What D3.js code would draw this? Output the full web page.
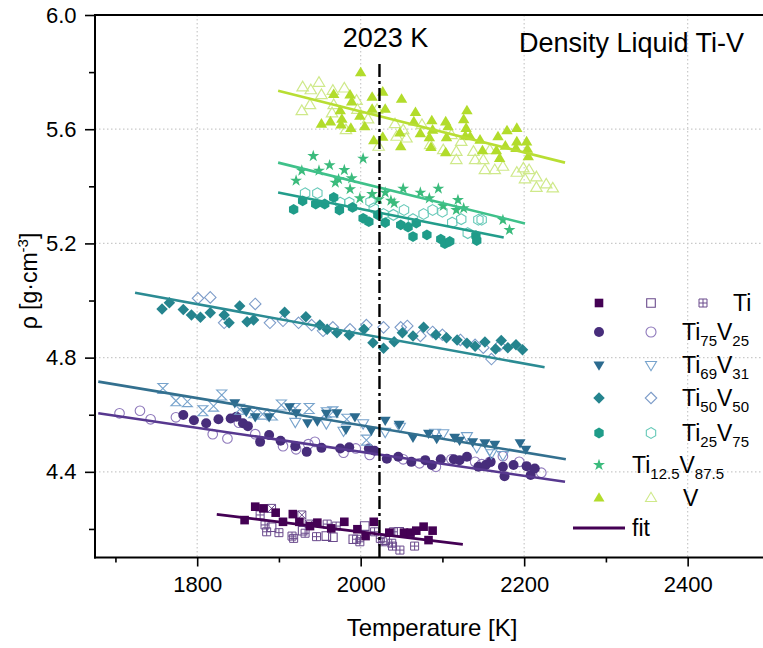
<!DOCTYPE html>
<html>
<head>
<meta charset="utf-8">
<script src="https://cdn.jsdelivr.net/npm/d3@7"></script>
<style>
  body { margin: 0; background: #fff; }
  svg { display: block; font-family: "Liberation Sans", Arial, sans-serif; }
</style>
</head>
<body>
<svg id="chart" width="763" height="648"></svg>
<script>
// ---- Measured densities [T in K, rho in g/cm^3] ----
const tiFilled = [[1858,4.231],[1871,4.278],[1881,4.272],[1896,4.257],[1905,4.225],[1917,4.252],[1925,4.225],[1938,4.210],[1947,4.222],[1964,4.202],[1980,4.225],[1996,4.199],[2006,4.175],[2016,4.225],[2035,4.187],[2053,4.187],[2061,4.187],[2068,4.194],[2077,4.208],[2083,4.161],[2088,4.194]];
const tiOpen = [[1891,4.206],[1929,4.194],[1958,4.175],[1966,4.171],[1991,4.164],[2005,4.210],[2030,4.161],[2047,4.190]];
const tiGrid = [[1877,4.249],[1883,4.214],[1885,4.190],[1900,4.187],[1916,4.175],[1918,4.167],[1932,4.185],[1946,4.173],[1959,4.217],[1970,4.210],[1995,4.164],[1999,4.155],[2017,4.190],[2024,4.167],[2027,4.155],[2038,4.150],[2039,4.140],[2040,4.190],[2048,4.126],[2066,4.140]];
const tiCross = [[1891,4.272],[1928,4.249],[1937,4.217]];

const ti75Filled = [[1783,4.599],[1796,4.581],[1811,4.570],[1826,4.584],[1841,4.587],[1848,4.593],[1856,4.570],[1862,4.560],[1877,4.505],[1888,4.529],[1902,4.509],[1920,4.490],[1934,4.470],[1952,4.484],[1975,4.482],[1986,4.486],[2010,4.482],[2017,4.474],[2032,4.446],[2046,4.453],[2062,4.435],[2079,4.441],[2087,4.424],[2098,4.444],[2114,4.444],[2121,4.441],[2130,4.453],[2144,4.418],[2153,4.424],[2159,4.435],[2174,4.418],[2176,4.385],[2187,4.424],[2203,4.420],[2208,4.389],[2213,4.412]];
const ti75Open = [[1705,4.605],[1730,4.614],[1743,4.584],[1774,4.591],[1819,4.532],[1837,4.517],[1851,4.572],[1871,4.532],[1905,4.490],[1921,4.479],[1936,4.497],[1944,4.505],[1979,4.467],[1994,4.482],[2011,4.459],[2052,4.444],[2072,4.430],[2092,4.418],[2111,4.444],[2140,4.435],[2148,4.427],[2158,4.435],[2174,4.455],[2194,4.435],[2221,4.397]];

const ti69Filled = [[1846,4.642],[1860,4.611],[1871,4.593],[1888,4.593],[1913,4.628],[1921,4.607],[1935,4.572],[1947,4.578],[1958,4.605],[1971,4.607],[1993,4.593],[1982,4.549],[2013,4.546],[2030,4.581],[2047,4.567],[2064,4.521],[2083,4.535],[2093,4.517],[2115,4.521],[2121,4.511],[2137,4.505],[2152,4.502],[2164,4.497],[2195,4.502],[2202,4.479]];
const ti69Open = [[1920,4.575],[1958,4.570],[1979,4.544],[2003,4.570],[2030,4.540],[2048,4.558],[2091,4.537],[2101,4.535],[2130,4.525],[2142,4.486],[2158,4.476],[2160,4.465],[2174,4.459]];
const ti69Cross = [[1758,4.692],[1774,4.649],[1788,4.646],[1807,4.614],[1820,4.630],[1830,4.669],[1852,4.619],[1869,4.607],[1880,4.602],[1892,4.599],[1903,4.634],[1920,4.622],[1937,4.622],[1958,4.607],[1966,4.610],[1983,4.584],[2007,4.511]];

const ti50Filled = [[1757,4.970],[1766,4.992],[1783,4.969],[1793,4.949],[1804,4.941],[1816,4.957],[1833,4.949],[1839,4.922],[1852,4.981],[1861,4.926],[1869,4.932],[1907,4.959],[1933,4.943],[1950,4.914],[1959,4.899],[1971,4.887],[1986,4.879],[2004,4.899],[2015,4.852],[2028,4.833],[2041,4.856],[2051,4.887],[2064,4.876],[2077,4.906],[2092,4.880],[2105,4.870],[2118,4.862],[2130,4.850],[2140,4.840],[2152,4.855],[2165,4.830],[2172,4.860],[2180,4.835],[2190,4.845],[2198,4.828]];
const ti50Open = [[1801,5.008],[1816,5.011],[1833,4.922],[1871,4.988],[1889,4.922],[1905,4.929],[1924,4.922],[1940,4.914],[1954,4.894],[1966,4.906],[1987,4.899],[2007,4.914],[2028,4.906],[2049,4.906],[2057,4.911],[2073,4.876],[2088,4.890],[2100,4.880],[2122,4.862],[2140,4.845],[2150,4.835],[2160,4.795],[2170,4.842]];

const ti25Filled = [[1918,5.319],[1929,5.349],[1945,5.338],[1956,5.338],[1967,5.361],[1974,5.317],[1990,5.326],[2003,5.288],[2010,5.276],[2021,5.300],[2030,5.273],[2049,5.265],[2058,5.257],[2068,5.271],[2064,5.224],[2081,5.230],[2098,5.215],[2103,5.199],[2109,5.207],[2141,5.227],[2142,5.210]];
const ti25Open = [[1932,5.376],[1947,5.376],[1975,5.343],[1986,5.343],[2012,5.346],[2016,5.323],[2028,5.303],[2040,5.300],[2053,5.317],[2064,5.285],[2077,5.303],[2088,5.317],[2100,5.311],[2112,5.273],[2123,5.285],[2131,5.236],[2144,5.283],[2148,5.283]];

const ti125Filled = [[1942,5.506],[1928,5.455],[1949,5.455],[1962,5.474],[1980,5.457],[2003,5.497],[1921,5.420],[1969,5.413],[1973,5.425],[1989,5.428],[1987,5.390],[1999,5.358],[2014,5.373],[2022,5.355],[2030,5.378],[2037,5.350],[2041,5.341],[2052,5.392],[2073,5.378],[2084,5.358],[2095,5.392],[2101,5.331],[2119,5.352],[2117,5.317],[2126,5.323],[2174,5.282],[2182,5.247]];

const vFilled = [[2000,5.798],[1987,5.720],[1967,5.722],[2014,5.712],[2027,5.730],[2050,5.705],[1989,5.696],[1975,5.665],[2014,5.670],[2030,5.670],[1952,5.618],[1963,5.626],[1976,5.615],[1977,5.635],[1988,5.603],[1999,5.646],[2005,5.609],[2016,5.560],[2027,5.572],[2067,5.659],[2065,5.626],[2087,5.630],[2088,5.597],[2073,5.585],[2048,5.587],[2049,5.539],[2104,5.626],[2107,5.609],[2105,5.571],[2084,5.571],[2086,5.536],[2104,5.518],[2130,5.665],[2126,5.634],[2129,5.603],[2128,5.576],[2146,5.562],[2149,5.525],[2166,5.525],[2170,5.498],[2168,5.574],[2179,5.595],[2177,5.541],[2191,5.603],[2191,5.556],[2190,5.533],[2203,5.556],[2204,5.530],[2205,5.504],[2134,5.574]];
const vOpen = [[1929,5.747],[1939,5.737],[1949,5.763],[1952,5.720],[1938,5.685],[1928,5.664],[1966,5.735],[1980,5.743],[1967,5.685],[1965,5.656],[1995,5.700],[1996,5.668],[2009,5.635],[1982,5.597],[2020,5.668],[2022,5.539],[2042,5.618],[2044,5.574],[2052,5.597],[2056,5.568],[2075,5.615],[2085,5.545],[2101,5.527],[2111,5.580],[2117,5.521],[2117,5.492],[2123,5.556],[2138,5.521],[2140,5.492],[2150,5.492],[2152,5.457],[2164,5.457],[2174,5.469],[2191,5.448],[2201,5.425],[2206,5.457],[2215,5.432],[2215,5.395],[2227,5.407],[2235,5.393],[2199,5.463],[2158,5.527]];

// ---- Linear fits (end points) ----
const fitTi    = [[1824,4.251],[2125,4.146]];
const fitTi75  = [[1679,4.605],[2250,4.365]];
const fitTi69  = [[1679,4.716],[2251,4.444]];
const fitTi50  = [[1724,5.027],[2225,4.766]];
const fitTi25  = [[1899,5.378],[2175,5.221]];
const fitTi125 = [[1899,5.483],[2201,5.270]];
const fitV     = [[1899,5.735],[2250,5.483]];

const liquidusT = 2023;

// ---- Axis ticks ----
const xTicks = [1800, 2000, 2200, 2400];
const xMinor = [1700, 1900, 2100, 2300, 2500];
const yTicks = [4.4, 4.8, 5.2, 5.6, 6.0];
const yMinor = [4.2, 4.6, 5.0, 5.4, 5.8];

// ---- Legend ----
const legendLabels = [
  [["Ti", 0]],
  [["Ti", 0], ["75", 1], ["V", 0], ["25", 1]],
  [["Ti", 0], ["69", 1], ["V", 0], ["31", 1]],
  [["Ti", 0], ["50", 1], ["V", 0], ["50", 1]],
  [["Ti", 0], ["25", 1], ["V", 0], ["75", 1]],
  [["Ti", 0], ["12.5", 1], ["V", 0], ["87.5", 1]],
  [["V", 0]]
];

// ---- Setup ----
const svg = d3.select("#chart");
const x = d3.scaleLinear().domain([1675, 2500]).range([95, 769.4]);
const y = d3.scaleLinear().domain([4.1, 6.0]).range([557.5, 15]);
const X0 = 95, X1 = 769.4, Y0 = 557.5, Y1 = 15;

// Marker shapes (r = half size)
const shapes = {
  square: r => `M${-r},${-r}H${r}V${r}H${-r}Z`,
  grid: r => `M${-r},${-r}H${r}V${r}H${-r}ZM0,${-r}V${r}M${-r},0H${r}`,
  cross: r => `M${-r},${-r}H${r}V${r}H${-r}ZM${-r},${-r}L${r},${r}M${r},${-r}L${-r},${r}`,
  circle: r => `M${r},0A${r},${r},0,1,1,${-r},0A${r},${r},0,1,1,${r},0Z`,
  triDown: r => `M${-r*1.1},${-r*0.7}H${r*1.1}L0,${r*1.15}Z`,
  triUp: r => `M${-r*1.1},${r*0.7}H${r*1.1}L0,${-r*1.15}Z`,
  hourglass: r => `M${-r},${-r}H${r}L${-r},${r}H${r}Z`,
  diamond: r => `M0,${-r*1.15}L${r*1.15},0L0,${r*1.15}L${-r*1.15},0Z`,
  hexagon: r => {
    const p = d3.range(6).map(i => { const a = Math.PI / 3 * i - Math.PI / 2; return [r * 1.08 * Math.cos(a), r * 1.08 * Math.sin(a)]; });
    return "M" + p.map(q => q.join(",")).join("L") + "Z";
  },
  star: r => d3.symbol(d3.symbolStar, r * r * 2.2)()
};

const C = {
  ti: "#440154", tiO: "#6a4a8c",
  ti75: "#472d7b", ti75O: "#8e78bb",
  ti69: "#2c6b8f", ti69O: "#77a3cc",
  ti50: "#25848e", ti50O: "#7d9cc9",
  ti25: "#1f9c89", ti25O: "#66c9b8",
  ti125: "#3bbb7c",
  v: "#b2dc2b", vO: "#cfe98a",
  fit75: "#57388f", fit69: "#33708f", fit50: "#2b8b93", fit25: "#229d8b", fit125: "#3fc18a", fitV: "#b8de33"
};

// ---- Grid ----
const grid = svg.append("g").attr("stroke", "#c9c9c9").attr("stroke-width", 1.2).attr("stroke-dasharray", "1.5,2.5");
grid.selectAll(".gx").data(xTicks).join("line")
  .attr("x1", d => x(d)).attr("x2", d => x(d)).attr("y1", Y1).attr("y2", Y0);
grid.selectAll(".gy").data(yTicks.filter(d => d < 6)).join("line")
  .attr("y1", d => y(d)).attr("y2", d => y(d)).attr("x1", X0).attr("x2", X1);

// ---- Points ----
function drawPoints(data, shape, r, fill, stroke, sw) {
  svg.append("g").selectAll("path").data(data).join("path")
    .attr("transform", d => `translate(${x(d[0])},${y(d[1])})`)
    .attr("d", shapes[shape](r))
    .attr("fill", fill).attr("stroke", stroke).attr("stroke-width", sw || 1);
}

drawPoints(tiGrid, "grid", 4, "none", C.tiO, 1);
drawPoints(tiCross, "cross", 4, "none", C.tiO, 1);
drawPoints(tiOpen, "square", 4.3, "none", C.tiO, 1.1);
drawPoints(tiFilled, "square", 4.3, C.ti, "none");

drawPoints(ti75Open, "circle", 4.8, "none", C.ti75O, 1.1);
drawPoints(ti75Filled, "circle", 5, C.ti75, "none");

drawPoints(ti69Cross, "hourglass", 5, "none", C.ti69O, 1.1);
drawPoints(ti69Open, "triDown", 5, "none", C.ti69O, 1.1);
drawPoints(ti69Filled, "triDown", 5, C.ti69, "none");

drawPoints(ti50Open, "diamond", 5, "none", C.ti50O, 1.1);
drawPoints(ti50Filled, "diamond", 5, C.ti50, "none");

drawPoints(ti25Open, "hexagon", 5, "none", C.ti25O, 1.1);
drawPoints(ti25Filled, "hexagon", 5, C.ti25, "none");

drawPoints(ti125Filled, "star", 4.5, C.ti125, "none");

drawPoints(vOpen, "triUp", 5.2, "none", C.vO, 1.2);
drawPoints(vFilled, "triUp", 5.2, C.v, "none");

// ---- Fit lines ----
const line = d3.line().x(d => x(d[0])).y(d => y(d[1]));
[[fitTi, C.ti], [fitTi75, C.fit75], [fitTi69, C.fit69], [fitTi50, C.fit50],
 [fitTi25, C.fit25], [fitTi125, C.fit125], [fitV, C.fitV]].forEach(([d, c]) => {
  svg.append("path").datum(d).attr("d", line).attr("fill", "none")
    .attr("stroke", c).attr("stroke-width", 2.6);
});

// ---- Liquidus marker ----
svg.append("line")
  .attr("x1", x(liquidusT)).attr("x2", x(liquidusT))
  .attr("y1", 64).attr("y2", Y0)
  .attr("stroke", "#000").attr("stroke-width", 2.4)
  .attr("stroke-dasharray", "13,4,3,4");
svg.append("text").attr("x", x(liquidusT) + 6).attr("y", 47)
  .attr("text-anchor", "middle").attr("font-size", 27).text(liquidusT + " K");
svg.append("text").attr("x", 519).attr("y", 52)
  .attr("font-size", 27).text("Density Liquid Ti-V");

// ---- Axes ----
const axes = svg.append("g").attr("stroke", "#000");
axes.append("line").attr("x1", X0).attr("x2", X0).attr("y1", Y1 - 1).attr("y2", Y0 + 1).attr("stroke-width", 2);
axes.append("line").attr("x1", X0 - 1).attr("x2", X1).attr("y1", Y0).attr("y2", Y0).attr("stroke-width", 2);
axes.append("line").attr("x1", X0 - 1).attr("x2", X1).attr("y1", Y1).attr("y2", Y1).attr("stroke-width", 2);

const gy = svg.append("g").attr("transform", `translate(${X0},0)`)
  .call(d3.axisLeft(y).tickValues(yTicks).tickSize(10).tickPadding(8.5).tickFormat(d3.format(".1f")));
gy.select(".domain").remove();
gy.selectAll(".tick line").attr("stroke-width", 1.6);
gy.selectAll(".tick text").attr("font-size", 22).attr("font-family", "Liberation Sans, Arial, sans-serif").attr("fill", "#000");
const gym = svg.append("g").attr("transform", `translate(${X0},0)`)
  .call(d3.axisLeft(y).tickValues(yMinor).tickSize(6).tickFormat(""));
gym.select(".domain").remove();
gym.selectAll(".tick line").attr("stroke-width", 1.6);

const gx = svg.append("g").attr("transform", `translate(0,${Y0})`)
  .call(d3.axisBottom(x).tickValues(xTicks).tickSize(9).tickPadding(10).tickFormat(d3.format("d")));
gx.select(".domain").remove();
gx.selectAll(".tick line").attr("stroke-width", 1.6);
gx.selectAll(".tick text").attr("font-size", 22).attr("font-family", "Liberation Sans, Arial, sans-serif").attr("fill", "#000");
const gxm = svg.append("g").attr("transform", `translate(0,${Y0})`)
  .call(d3.axisBottom(x).tickValues(xMinor).tickSize(5).tickFormat(""));
gxm.select(".domain").remove();
gxm.selectAll(".tick line").attr("stroke-width", 1.6);

svg.append("text").attr("x", 432).attr("y", 636).attr("text-anchor", "middle")
  .attr("font-size", 24).text("Temperature [K]");

const yl = svg.append("text").attr("transform", "translate(37,281) rotate(-90)")
  .attr("text-anchor", "middle").attr("font-size", 23);
yl.append("tspan").text("ρ [g·cm");
yl.append("tspan").attr("font-size", 15).attr("dy", -9).text("-3");
yl.append("tspan").attr("dy", 9).text("]");

// ---- Legend ----
const rowsY = [303, 332, 365, 398, 433, 465, 498];
const legendFilled = [["square", C.ti], ["circle", C.ti75], ["triDown", C.ti69], ["diamond", C.ti50], ["hexagon", C.ti25], ["star", C.ti125], ["triUp", C.v]];
const legendOpen = [["square", C.tiO], ["circle", C.ti75O], ["triDown", C.ti69O], ["diamond", C.ti50O], ["hexagon", C.ti25O], null, ["triUp", C.vO]];
const labelX = [733, 682, 682, 682, 682, 632, 683];
const leg = svg.append("g");
rowsY.forEach((ry, i) => {
  const f = legendFilled[i];
  leg.append("path").attr("transform", `translate(599,${ry})`)
    .attr("d", shapes[f[0]](f[0] === "star" ? 4.5 : (f[0] === "square" ? 4.3 : 5)))
    .attr("fill", f[1]);
  const o = legendOpen[i];
  if (o) leg.append("path").attr("transform", `translate(651,${ry})`)
    .attr("d", shapes[o[0]](o[0] === "square" ? 4.3 : 5))
    .attr("fill", "none").attr("stroke", o[1]).attr("stroke-width", 1.1);
  if (i === 0) leg.append("path").attr("transform", `translate(703,${ry})`)
    .attr("d", shapes.grid(4)).attr("fill", "none").attr("stroke", C.tiO).attr("stroke-width", 1);
  const t = leg.append("text").attr("x", labelX[i]).attr("y", ry + 8).attr("font-size", 23);
  let sub = false;
  legendLabels[i].forEach(([s, isSub]) => {
    const sp = t.append("tspan").text(s);
    if (isSub && !sub) { sp.attr("font-size", 15).attr("dy", 6); sub = true; }
    else if (isSub) sp.attr("font-size", 15);
    else if (sub) { sp.attr("dy", -6); sub = false; }
  });
});
leg.append("line").attr("x1", 573).attr("x2", 625).attr("y1", 528).attr("y2", 528)
  .attr("stroke", C.ti).attr("stroke-width", 3);
leg.append("text").attr("x", 632).attr("y", 536).attr("font-size", 23).text("fit");
</script>
</body>
</html>
